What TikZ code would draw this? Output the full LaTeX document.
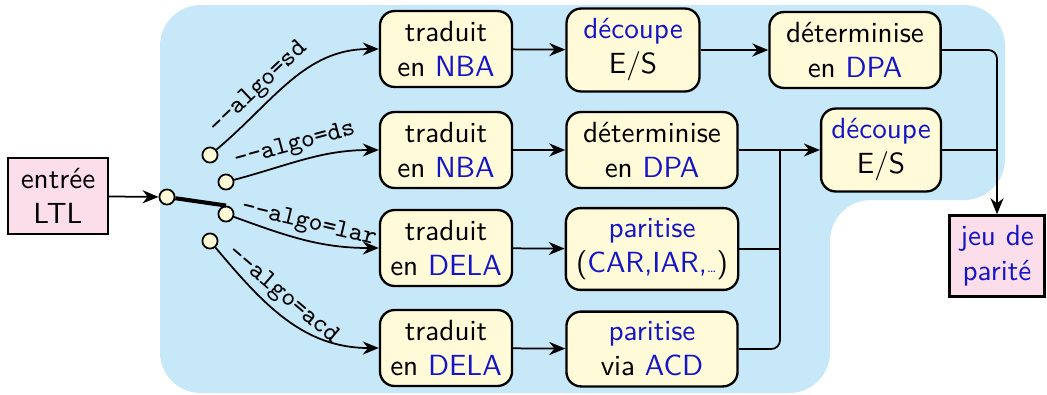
\documentclass[tikz,border=0pt]{standalone}
\usetikzlibrary{arrows.meta}
\definecolor{bgblue}{RGB}{198,232,248}
\definecolor{boxyellow}{RGB}{255,250,216}
\definecolor{boxpink}{RGB}{252,222,234}
\definecolor{txtblue}{RGB}{20,20,200}
\newcommand{\bl}[1]{\textcolor{txtblue}{#1}}
\newcommand{\opt}[1]{\texttt{\small -{}-algo=#1}}
\begin{document}
\begin{tikzpicture}[x=0.343pt,y=0.343pt,font=\sffamily,
	>={Stealth[length=5.5pt,width=4.5pt]},
	every path/.style={semithick},
	stage/.style={draw,thick,fill=boxyellow,rounded corners=5pt,align=center,inner sep=3.5pt},
	io/.style={draw,thick,fill=boxpink,align=center,inner sep=3.5pt},
	port/.style={circle,draw,fill=boxyellow,minimum size=5.2pt,inner sep=0pt},
	lbl/.style={sloped,above,inner sep=1.5pt}]
	\useasboundingbox (0,0) rectangle (1047,-394);
	\fill[bgblue,rounded corners=14pt] (160,-5) -- (1005,-5) -- (1005,-200) -- (830,-200) -- (830,-393) -- (160,-393) -- cycle;
	\node[io,minimum width=34.3pt] at (58,-196) (ltl) {entrée\\LTL};
	\node[port] at (167,-197) (in) {};
	\node[port] at (210,-155) (sd) {};
	\node[port] at (226,-182) (ds) {};
	\node[port] at (226,-214) (lar) {};
	\node[port] at (210,-241) (acd) {};
	\node[stage,minimum width=45.3pt] at (446,-49) (b11) {traduit\\en \bl{NBA}};
	\node[stage,minimum width=45.6pt] at (633,-50) (b12) {\bl{découpe}\\E/S};
	\node[stage,minimum width=58.7pt] at (855,-50) (b13) {déterminise\\en \bl{DPA}};
	\node[stage,minimum width=45.3pt] at (446,-150) (b21) {traduit\\en \bl{NBA}};
	\node[stage,minimum width=58.7pt] at (652,-150) (b22) {déterminise\\en \bl{DPA}};
	\node[stage,minimum width=40.1pt] at (881,-150) (b23) {\bl{découpe}\\E/S};
	\node[stage,minimum width=45.3pt] at (446,-248) (b31) {traduit\\en \bl{DELA}};
	\node[stage,minimum width=58.7pt] at (652,-249) (b32) {\bl{paritise}\\(\bl{CAR,IAR,{\tiny\ldots}})};
	\node[stage,minimum width=45.3pt] at (446,-348) (b41) {traduit\\en \bl{DELA}};
	\node[stage,minimum width=58.7pt] at (652,-349) (b42) {\bl{paritise}\\via \bl{ACD}};
	\node[io,minimum width=32.6pt] at (997,-256) (jeu) {\bl{jeu de}\\\bl{parité}};
	\coordinate (j1) at (780,-150);
	\coordinate (j2) at (997,-150);
	\draw[->] (ltl) -- (in);
	\draw[line width=1.4pt] (in) -- (lar.north);
	\draw[->] (sd) to[out=40,in=180] node[lbl,pos=0.35] {\opt{sd}} (b11);
	\draw[->] (ds) to[out=15,in=180] node[lbl,pos=0.45] {\opt{ds}} (b21);
	\draw[->] (lar) to[out=-20,in=180] node[lbl,pos=0.5] {\opt{lar}} (b31);
	\draw[->] (acd) to[out=-50,in=180] node[lbl,pos=0.4] {\opt{acd}} (b41);
	\draw[->] (b11) -- (b12);
	\draw[->] (b12) -- (b13);
	\draw[->] (b21) -- (b22);
	\draw[->] (b22) -- (b23);
	\draw[->] (b31) -- (b32);
	\draw[->] (b41) -- (b42);
	\draw[->,rounded corners=3pt] (b13) -| (jeu);
	\draw (b23) -- (j2);
	\draw (b32.east) -- (b32.east -| j1);
	\draw[rounded corners=3pt] (b42) -| (j1);
	\end{tikzpicture}
\end{document}
